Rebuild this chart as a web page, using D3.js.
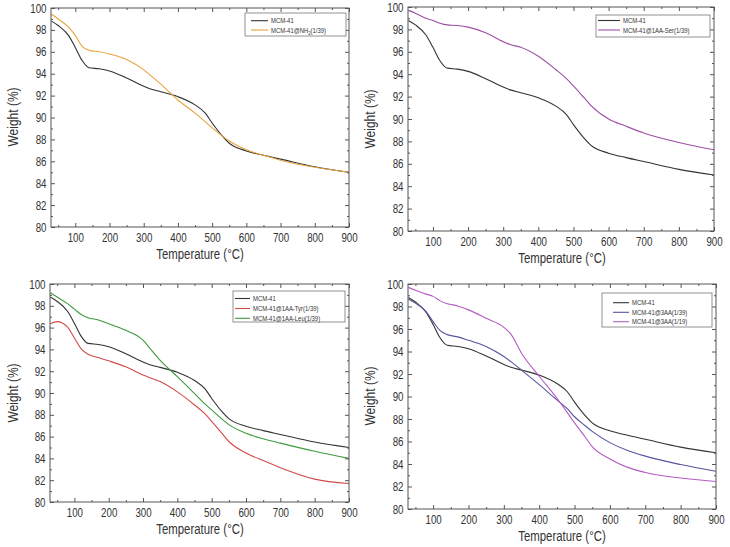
<!DOCTYPE html>
<html><head><meta charset="utf-8">
<script src="https://cdn.jsdelivr.net/npm/d3@7"></script>
<style>body{margin:0;background:#fff}svg{display:block}text{font-family:"Liberation Sans",Arial,sans-serif;fill:#333}</style>
</head><body><svg id="c" width="730" height="547"></svg>
<script>
// ---- data ----
const temps = [30,50,80,100,120,140,170,200,250,300,320,350,400,450,480,500,530,550,600,650,700,800,900];
const mcm41   = [98.8,98.4,97.5,96.4,95.2,94.55,94.45,94.25,93.6,92.85,92.6,92.35,91.9,91.15,90.4,89.5,88.3,87.65,86.95,86.55,86.2,85.5,85.0];
const nh2     = [99.45,99.0,98.25,97.5,96.5,96.15,96.0,95.8,95.3,94.35,93.85,93.05,91.6,90.4,89.6,89.05,88.3,87.85,87.05,86.55,86.1,85.45,85.0];
const ser     = [99.7,99.45,99.0,98.8,98.55,98.4,98.35,98.2,97.7,96.9,96.65,96.4,95.6,94.4,93.6,92.95,91.9,91.2,90.0,89.35,88.75,87.9,87.25];
const tyr     = [96.35,96.55,96.05,95.05,94.05,93.55,93.25,92.95,92.4,91.65,91.4,91.05,90.1,88.9,88.1,87.4,86.3,85.55,84.5,83.8,83.15,82.1,81.7];
const leu     = [99.2,98.8,98.2,97.7,97.2,96.9,96.7,96.35,95.75,94.85,94.1,93.0,91.5,89.95,89.0,88.45,87.6,87.1,86.3,85.8,85.4,84.65,84.0];
const aa3_39  = [98.65,98.3,97.55,96.65,95.85,95.5,95.3,95.0,94.45,93.55,93.1,92.35,91.05,89.7,88.9,88.2,87.4,86.9,85.9,85.2,84.7,83.95,83.35];
const aa3_19  = [99.7,99.45,99.1,98.9,98.5,98.25,98.05,97.7,96.95,96.15,95.55,93.85,91.8,89.85,88.55,87.65,86.4,85.55,84.45,83.7,83.25,82.75,82.45];
const xTicks = [100,200,300,400,500,600,700,800,900];
const xMinor = [50,150,250,350,450,550,650,750,850];
const yTicks = [80,82,84,86,88,90,92,94,96,98,100];
const yMinor = [81,83,85,87,89,91,93,95,97,99];
const xTitle = "Temperature (°C)";
const yTitle = "Weight (%)";

const C = {mcm:"#333333", nh2:"#E8A33D", ser:"#9E4FA6", tyr:"#D24B4B", leu:"#3F9A3F", a39:"#55559F", a19:"#B45CC4"};

const panels = [
  {box:[51,8,349,227], series:[{n:"MCM-41",v:mcm41,c:C.mcm},{n:"MCM-41@NH",sub:"2",tail:"(1/39)",v:nh2,c:C.nh2}],
   leg:[245,13,346,36], legLine:[251,268], legText:271, rows:[20.7,30], xt:[200,259], yt:[13,117]},
  {box:[408,7,714,231], series:[{n:"MCM-41",v:mcm41,c:C.mcm},{n:"MCM-41@1AA-Ser(1/39)",v:ser,c:C.ser}],
   leg:[596,15,710,37], legLine:[598,620], legText:623, rows:[20.5,30], xt:[562,263], yt:[370,119]},
  {box:[50,284,349,502], series:[{n:"MCM-41",v:mcm41,c:C.mcm},{n:"MCM-41@1AA-Tyr(1/39)",v:tyr,c:C.tyr},{n:"MCM-41@1AA-Leu(1/39)",v:leu,c:C.leu}],
   leg:[233,291,345,322], legLine:[235,250], legText:253, rows:[298.5,308.5,318.3], xt:[200,534], yt:[13,393]},
  {box:[408,284,716,509], series:[{n:"MCM-41",v:mcm41,c:C.mcm},{n:"MCM-41@3AA(1/39)",v:aa3_39,c:C.a39},{n:"MCM-41@3AA(1/19)",v:aa3_19,c:C.a19}],
   leg:[602,293,712,327], legLine:[613,629], legText:632, rows:[302.7,312.3,321.7], xt:[562,541], yt:[370,396]}
];

const svg = d3.select("#c");
const SX = 0.78;

panels.forEach(p => {
  const [x0,y0,x1,y1] = p.box;
  const x = d3.scaleLinear().domain([29,900]).range([x0,x1]);
  const y = d3.scaleLinear().domain([80,100]).range([y1,y0]);
  const g = svg.append("g");

  // curves
  const line = d3.line().x((d,i)=>x(temps[i])).y(d=>y(d)).curve(d3.curveMonotoneX);
  const clip = "clip"+x0+"_"+y0;
  svg.append("clipPath").attr("id",clip).append("rect").attr("x",x0).attr("y",y0).attr("width",x1-x0).attr("height",y1-y0);
  p.series.forEach(s => {
    g.append("path").attr("d", line(s.v)).attr("fill","none").attr("stroke",s.c).attr("stroke-width",1.1).attr("clip-path",`url(#${clip})`);
  });

  // axes
  const mk = (axis, pos, vals, size, labels) => {
    const a = axis.tickValues(vals).tickSizeInner(-size).tickSizeOuter(0);
    if (!labels) a.tickFormat("");
    const ag = g.append("g").attr("transform", pos).call(a);
    ag.select(".domain").remove();
    ag.selectAll("line").attr("stroke","#555");
    return ag;
  };
  const xb = mk(d3.axisBottom(x).tickPadding(6), `translate(0,${y1})`, xTicks, 4, true);
  xb.selectAll("text").attr("font-size",12.5).attr("fill","#333").attr("transform",`scale(${SX},1)`).attr("x",0);
  mk(d3.axisBottom(x), `translate(0,${y1})`, xMinor, 2, false);
  mk(d3.axisTop(x), `translate(0,${y0})`, xTicks, 4, false);
  mk(d3.axisTop(x), `translate(0,${y0})`, xMinor, 2, false);
  const yl = mk(d3.axisLeft(y), `translate(${x0},0)`, yTicks, 4, true);
  yl.selectAll("text").attr("font-size",12.5).attr("fill","#333").attr("x",-4.5/SX).attr("transform",`scale(${SX},1)`);
  mk(d3.axisLeft(y), `translate(${x0},0)`, yMinor, 2, false);
  mk(d3.axisRight(y), `translate(${x1},0)`, yTicks, 4, false);
  mk(d3.axisRight(y), `translate(${x1},0)`, yMinor, 2, false);

  // frame
  g.append("rect").attr("x",x0).attr("y",y0).attr("width",x1-x0).attr("height",y1-y0)
    .attr("fill","none").attr("stroke","#555").attr("stroke-width",1);

  // titles
  g.append("text").attr("transform",`translate(${p.xt[0]},${p.xt[1]}) scale(0.76,1)`)
    .attr("text-anchor","middle").attr("font-size",15).text(xTitle);
  g.append("text").attr("transform",`translate(${p.yt[0]},${p.yt[1]}) rotate(-90) scale(0.8,1)`)
    .attr("text-anchor","middle").attr("dy","0.35em").attr("font-size",15).text(yTitle);

  // legend
  const [lx0,ly0,lx1,ly1] = p.leg;
  g.append("rect").attr("x",lx0).attr("y",ly0).attr("width",lx1-lx0).attr("height",ly1-ly0)
    .attr("fill","#fff").attr("stroke","#777").attr("stroke-width",0.8);
  p.series.forEach((s,i) => {
    const ry = p.rows[i];
    g.append("line").attr("x1",p.legLine[0]).attr("x2",p.legLine[1]).attr("y1",ry).attr("y2",ry)
      .attr("stroke",s.c).attr("stroke-width",1.1);
    const t = g.append("text").attr("transform",`translate(${p.legText},${ry}) scale(0.78,1)`)
      .attr("dy","0.35em").attr("font-size",7.6);
    t.append("tspan").text(s.n);
    if (s.sub) {
      t.append("tspan").attr("font-size",5.5).attr("dy","2").text(s.sub);
      t.append("tspan").attr("dy","-2").text(s.tail);
    }
  });
});
</script></body></html>
